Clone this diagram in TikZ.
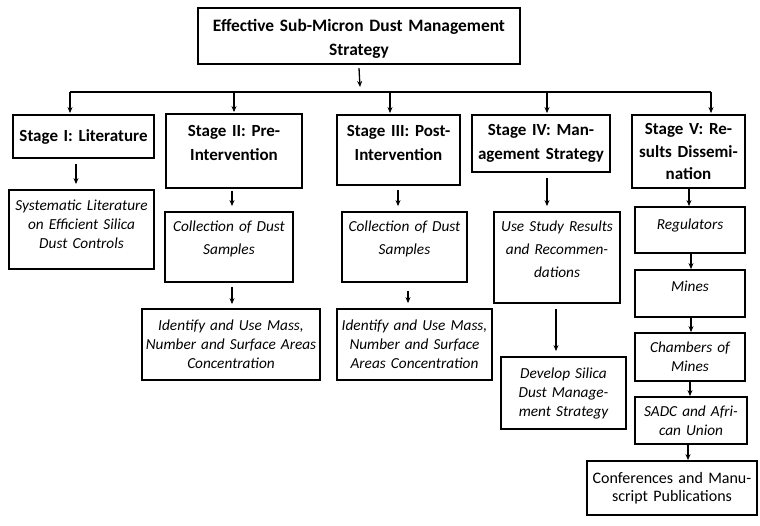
\documentclass[tikz,border=0pt]{standalone}
\usepackage{fontspec}
\setmainfont{Carlito}
\usetikzlibrary{arrows.meta}
\newcommand\liftend[1]{\par\kern#1}

\begin{document}
\begin{tikzpicture}[x=1pt, y=-1pt,
  box/.style={draw, line width=1.8pt, align=center, inner xsep=0pt, inner ysep=2pt,
    font=\fontsize{15.3}{19}\selectfont\itshape},
  stagebox/.style={box, font=\fontsize{17}{24}\selectfont\bfseries},
  plainbox/.style={box, font=\fontsize{16}{18}\selectfont},
  sz/.style n args={2}{minimum width=#1pt, minimum height=#2pt, text width=#1pt},
  lift/.style={execute at end node={\liftend{#1}}},
  arr/.style={-{Stealth[length=6pt,width=5pt]}, line width=1.3pt},
  bus/.style={line width=1.5pt}
]
\useasboundingbox (0,0) rectangle (760,526);

% top of the tree
\node[stagebox, sz={322}{56}, lift=-6pt, line width=2.2pt, font=\fontsize{17.4}{24}\selectfont\bfseries] (title) at (359,36)
  {Effective Sub-Micron Dust Management\\Strategy};

% stages
\node[stagebox, sz={141}{43}] (s1) at (83.5,136.5) {Stage I: Literature};
\node[stagebox, sz={136}{74}, lift=16pt] (s2) at (234,151) {Stage II: Pre-\\Intervention};
\node[stagebox, sz={123}{70}, lift=14pt] (s3) at (398.5,150) {Stage III: Post-\\Intervention};
\node[stagebox, sz={138}{57}] (s4) at (541,143.5) {Stage IV: Man-\\agement Strategy};
\node[stagebox, sz={113}{73}, font=\fontsize{17}{22.5}\selectfont\bfseries] (s5) at (688.5,151.5)
  {Stage V: Re-\\sults Dissemi-\\nation};

% stage I
\node[box, sz={145}{79}, lift=10pt] (lit) at (81.5,229.5)
  {Systematic Literature\\on Efficient Silica\\Dust Controls};

% stage II and III
\node[box, sz={128}{70}, lift=16pt, font=\fontsize{15.3}{23}\selectfont\itshape] (col2) at (229,247)
  {Collection of Dust\\Samples};
\node[box, sz={178}{71}] (idf2) at (231,344.5)
  {Identify and Use Mass,\\Number and Surface Areas\\Concentration};
\node[box, sz={125}{70}, lift=16pt, font=\fontsize{15.3}{23}\selectfont\itshape] (col3) at (404.5,247)
  {Collection of Dust\\Samples};
\node[box, sz={155}{71}] (idf3) at (414.5,344.5)
  {Identify and Use Mass,\\Number and Surface\\Areas Concentration};

% stage IV
\node[box, sz={126}{91}, lift=16pt, font=\fontsize{15.3}{23}\selectfont\itshape] (use) at (557,257.5)
  {Use Study Results\\and Recommen-\\dations};
\node[box, sz={125}{72}] (dev) at (563.5,393)
  {Develop Silica\\Dust Manage-\\ment Strategy};

% stage V
\node[box, sz={110}{46}, lift=8pt] (reg) at (690,230) {Regulators};
\node[box, sz={110}{47}, lift=14pt] (mines) at (690,293.5) {Mines};
\node[box, sz={110}{48}] (cham) at (690,357) {Chambers of\\Mines};
\node[box, sz={112}{47}] (sadc) at (691,420.5) {SADC and Afri-\\can Union};
\node[plainbox, sz={170}{54}] (conf) at (672,488) {Conferences and Manu-\\script Publications};

% branching
\coordinate (busL) at (70,92);
\coordinate (busR) at (711,92);
\draw[arr] ([yshift=-3pt]title.south) -- ([xshift=1pt,yshift=5pt]title.south |- busL);
\draw[bus] (busL) -- (busR);
\foreach \n/\x in {s1/70, s2/234, s3/390, s4/547, s5/711}
  \draw[arr] (\x,0 |- busL) -- ([yshift=1pt]\x,0 |- \n.north);

% down the columns
\draw[arr] ([xshift=-7.5pt,yshift=-5pt]s1.south) -- ([xshift=-5.5pt,yshift=5pt]lit.north);
\draw[arr] ([xshift=-2pt,yshift=-2pt]s2.south) -- ([xshift=3pt,yshift=5pt]col2.north);
\draw[arr] ([xshift=3pt,yshift=-4pt]col2.south) -- ([xshift=1pt,yshift=4pt]idf2.north);
\draw[arr] ([xshift=-0.5pt,yshift=-4pt]s3.south) -- ([xshift=-6.5pt,yshift=5pt]col3.north);
\draw[arr] ([xshift=3.5pt,yshift=-8pt]col3.south) -- ([xshift=-6.5pt,yshift=5pt]idf3.north);
\draw[arr] ([xshift=6pt,yshift=-5pt]s4.south) -- ([xshift=-10pt,yshift=5pt]use.north);
\draw[arr] ([xshift=-1pt,yshift=-5pt]use.south) -- ([xshift=-7.5pt,yshift=5pt]dev.north);
\draw[arr] ([xshift=0.5pt]s5.south) -- ([xshift=-1pt]reg.north);
\draw[arr] ([xshift=1pt]reg.south) -- ([xshift=1pt]mines.north);
\draw[arr] ([xshift=1pt]mines.south) -- ([xshift=1pt]cham.north);
\draw[arr] (cham.south) -- ([xshift=-1pt]sadc.north);
\draw[arr] ([xshift=-3pt]sadc.south) -- ([xshift=16pt]conf.north);
\end{tikzpicture}
\end{document}
